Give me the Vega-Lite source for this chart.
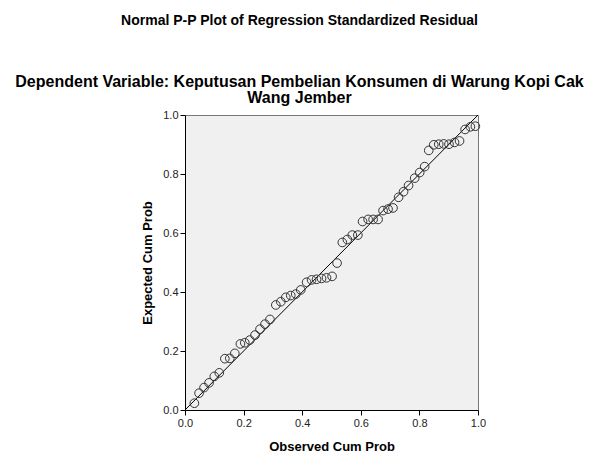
{
  "$schema": "https://vega.github.io/schema/vega-lite/v6.json",
  "width": 293,
  "height": 295,
  "autosize": "none",
  "padding": {"left": 185, "top": 115, "right": 119, "bottom": 46},
  "background": "white",
  "title": {
    "text": "Normal P-P Plot of Regression Standardized Residual",
    "subtitle": ["Dependent Variable: Keputusan Pembelian Konsumen di Warung Kopi Cak", "Wang Jember"],
    "anchor": "middle",
    "frame": "group",
    "dx": -32,
    "font": "Liberation Sans",
    "fontSize": 14,
    "fontWeight": "bold",
    "color": "black",
    "subtitleFont": "Liberation Sans",
    "subtitleFontSize": 16,
    "subtitleFontWeight": "bold",
    "subtitleColor": "black",
    "subtitlePadding": 46,
    "subtitleLineHeight": 16,
    "offset": 3
  },
  "config": {
    "view": {"fill": "#f0f0f0", "stroke": "#777777", "strokeWidth": 1},
    "axis": {
      "labelFont": "Liberation Sans",
      "labelFontSize": 11,
      "labelColor": "#222222",
      "labelFlush": false,
      "titleFont": "Liberation Sans",
      "titleFontSize": 13,
      "titleFontWeight": "bold",
      "titleColor": "black",
      "domainColor": "black",
      "tickColor": "black",
      "tickSize": 5,
      "grid": false
    }
  },
  "layer": [
    {
      "data": {"values": [{"a": 0, "b": 0, "a2": 1, "b2": 1}]},
      "mark": {"type": "rule", "color": "black", "strokeWidth": 1},
      "encoding": {
        "x": {"field": "a", "type": "quantitative"},
        "y": {"field": "b", "type": "quantitative"},
        "x2": {"field": "a2"},
        "y2": {"field": "b2"}
      }
    },
    {
      "data": {"values": [
        {"observed": 0.032, "expected": 0.023},
        {"observed": 0.048, "expected": 0.057},
        {"observed": 0.065, "expected": 0.076},
        {"observed": 0.082, "expected": 0.092},
        {"observed": 0.100, "expected": 0.114},
        {"observed": 0.117, "expected": 0.126},
        {"observed": 0.136, "expected": 0.174},
        {"observed": 0.153, "expected": 0.175},
        {"observed": 0.170, "expected": 0.192},
        {"observed": 0.189, "expected": 0.224},
        {"observed": 0.204, "expected": 0.228},
        {"observed": 0.221, "expected": 0.237},
        {"observed": 0.239, "expected": 0.254},
        {"observed": 0.256, "expected": 0.274},
        {"observed": 0.273, "expected": 0.291},
        {"observed": 0.290, "expected": 0.307},
        {"observed": 0.310, "expected": 0.356},
        {"observed": 0.327, "expected": 0.367},
        {"observed": 0.344, "expected": 0.382},
        {"observed": 0.361, "expected": 0.388},
        {"observed": 0.378, "expected": 0.393},
        {"observed": 0.395, "expected": 0.407},
        {"observed": 0.415, "expected": 0.433},
        {"observed": 0.432, "expected": 0.441},
        {"observed": 0.449, "expected": 0.443},
        {"observed": 0.466, "expected": 0.446},
        {"observed": 0.483, "expected": 0.448},
        {"observed": 0.502, "expected": 0.453},
        {"observed": 0.519, "expected": 0.498},
        {"observed": 0.537, "expected": 0.568},
        {"observed": 0.554, "expected": 0.578},
        {"observed": 0.571, "expected": 0.593},
        {"observed": 0.590, "expected": 0.593},
        {"observed": 0.606, "expected": 0.639},
        {"observed": 0.625, "expected": 0.646},
        {"observed": 0.642, "expected": 0.646},
        {"observed": 0.659, "expected": 0.646},
        {"observed": 0.676, "expected": 0.676},
        {"observed": 0.693, "expected": 0.681},
        {"observed": 0.710, "expected": 0.685},
        {"observed": 0.729, "expected": 0.721},
        {"observed": 0.746, "expected": 0.740},
        {"observed": 0.763, "expected": 0.761},
        {"observed": 0.784, "expected": 0.786},
        {"observed": 0.801, "expected": 0.805},
        {"observed": 0.818, "expected": 0.825},
        {"observed": 0.832, "expected": 0.880},
        {"observed": 0.849, "expected": 0.899},
        {"observed": 0.866, "expected": 0.901},
        {"observed": 0.883, "expected": 0.902},
        {"observed": 0.901, "expected": 0.901},
        {"observed": 0.920, "expected": 0.907},
        {"observed": 0.937, "expected": 0.912},
        {"observed": 0.956, "expected": 0.951},
        {"observed": 0.974, "expected": 0.960},
        {"observed": 0.991, "expected": 0.962}
      ]},
      "mark": {"type": "point", "shape": "circle", "filled": false, "size": 75, "stroke": "#333333", "strokeWidth": 1, "opacity": 1},
      "encoding": {
        "x": {
          "field": "observed", "type": "quantitative",
          "scale": {"domain": [0, 1], "nice": false},
          "axis": {"title": "Observed Cum Prob", "values": [0, 0.2, 0.4, 0.6, 0.8, 1.0], "format": ".1f", "titlePadding": 12}
        },
        "y": {
          "field": "expected", "type": "quantitative",
          "scale": {"domain": [0, 1], "nice": false},
          "axis": {"title": "Expected Cum Prob", "values": [0, 0.2, 0.4, 0.6, 0.8, 1.0], "format": ".1f", "titlePadding": 8}
        }
      }
    }
  ]
}
